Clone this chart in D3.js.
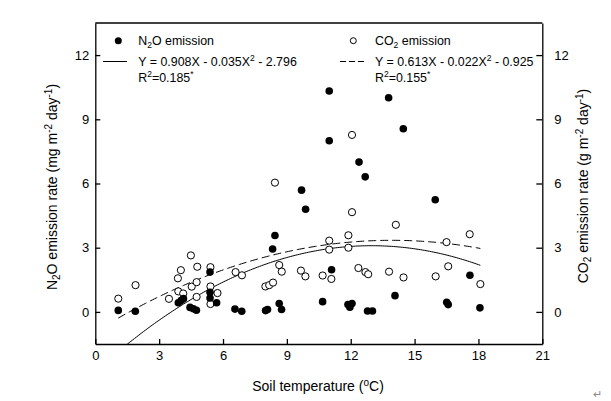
<!DOCTYPE html>
<html><head><meta charset="utf-8">
<script src="https://cdn.jsdelivr.net/npm/d3@7"></script>
<style>body{margin:0;background:#fff}svg{display:block}text{font-family:"Liberation Sans",Arial,sans-serif;fill:#000}</style>
</head><body>
<script>
// N2O emission (filled): soil temperature, rate
const n2oTemp = [1.08,1.88,3.90,4.03,4.14,4.45,4.61,4.75,5.39,5.39,5.39,5.70,6.56,6.88,8.00,8.09,8.33,8.44,8.64,8.75,9.69,9.88,10.68,10.99,10.99,11.10,11.87,11.96,12.06,12.39,12.68,12.79,13.02,13.78,14.08,14.47,15.97,16.51,16.58,17.60,18.07];
const n2oRate = [0.07,0.03,0.43,0.53,0.62,0.21,0.15,0.08,1.86,0.92,0.65,0.43,0.13,0.03,0.06,0.11,2.94,3.57,0.39,0.11,5.69,4.80,0.48,10.32,8.00,1.97,0.34,0.22,0.39,7.00,6.31,0.04,0.04,10.01,0.76,8.56,5.24,0.45,0.34,1.71,0.19];
// CO2 emission (open)
const co2Temp = [1.08,1.89,3.46,3.90,4.13,3.88,4.02,4.49,4.53,4.76,4.76,4.79,5.41,5.41,5.41,5.74,6.59,6.89,7.99,8.17,8.35,8.44,8.64,8.76,9.66,9.87,10.68,11.09,10.99,10.99,11.89,11.89,12.06,12.06,12.36,12.69,12.82,13.80,14.12,14.48,15.99,16.50,16.58,17.59,18.09];
const co2Rate = [0.62,1.25,0.61,0.96,0.86,1.57,1.95,2.64,1.18,1.39,0.70,2.11,2.09,1.19,0.37,0.88,1.86,1.71,1.19,1.25,1.37,6.04,2.19,1.88,1.93,1.66,1.70,1.54,3.33,2.91,3.58,3.00,4.66,8.27,2.05,1.86,1.76,1.88,4.07,1.61,1.66,3.26,2.13,3.63,1.30];
// fitted curves: Y = a*X + b*X^2 + c
const n2oFit = [0.908, -0.035, -2.796];
const co2Fit = [0.613, -0.022, -0.925];
const fitRange = [1.08, 18.09];
const xTicks = [0,3,6,9,12,15,18,21];
const yTicks = [0,3,6,9,12];

const W = 611, H = 401;
const svg = d3.select("body").append("svg").attr("width", W).attr("height", H);
const x = d3.scaleLinear().domain([0,21]).range([95.3,542.3]);
const y = d3.scaleLinear().domain([-1.5,13.5]).range([344,23]);

svg.append("defs").append("clipPath").attr("id","clip")
  .append("rect").attr("x",x(0)).attr("y",y(13.5)).attr("width",x(21)-x(0)).attr("height",y(-1.5)-y(13.5));

const fs = "13px";
const gx = svg.append("g").attr("transform",`translate(0,${y(-1.5)})`)
  .call(d3.axisBottom(x).tickValues(xTicks).tickSizeInner(-5).tickSizeOuter(0).tickPadding(7));
const gl = svg.append("g").attr("transform",`translate(${x(0)},0)`)
  .call(d3.axisLeft(y).tickValues(yTicks).tickSizeInner(-5).tickSizeOuter(0).tickPadding(6));
const gr = svg.append("g").attr("transform",`translate(${x(21)},0)`)
  .call(d3.axisRight(y).tickValues(yTicks).tickSizeInner(-6).tickSizeOuter(0).tickPadding(12));
[gx,gl,gr].forEach(g=>{
  g.selectAll("text").style("font-size",fs).style("font-family","Liberation Sans, Arial, sans-serif").attr("fill","#000");
  g.selectAll("line,path").attr("stroke","#000").attr("stroke-width",1.3);
});
svg.append("line").attr("x1",x(0)).attr("x2",x(21)).attr("y1",y(13.5)).attr("y2",y(13.5)).attr("stroke","#000").attr("stroke-width",1.3);

// curves
function curve(c){
  const pts = d3.range(0,201).map(i=>{const X = fitRange[0]+(fitRange[1]-fitRange[0])*i/200; return [X, c[0]*X + c[1]*X*X + c[2]];});
  return d3.line().x(d=>x(d[0])).y(d=>y(d[1]))(pts);
}
const plot = svg.append("g").attr("clip-path","url(#clip)");
plot.append("path").attr("d",curve(n2oFit)).attr("fill","none").attr("stroke","#000").attr("stroke-width",1);
plot.append("path").attr("d",curve(co2Fit)).attr("fill","none").attr("stroke","#000").attr("stroke-width",1).attr("stroke-dasharray","8,4");

// points
plot.selectAll("circle.co2").data(co2Temp.map((t,i)=>[t,co2Rate[i]])).join("circle")
  .attr("cx",d=>x(d[0])).attr("cy",d=>y(d[1])).attr("r",3.6).attr("fill","#fff").attr("stroke","#000").attr("stroke-width",1);
plot.selectAll("circle.n2o").data(n2oTemp.map((t,i)=>[t,n2oRate[i]])).join("circle")
  .attr("cx",d=>x(d[0])).attr("cy",d=>y(d[1])).attr("r",3.8).attr("fill","#000");

// legend
const lg = svg.append("g").style("font-size","12.4px");
const sub = "8.5px";
lg.append("circle").attr("cx",118.3).attr("cy",40.7).attr("r",3.5).attr("fill","#000");
let t = lg.append("text").attr("x",138.3).attr("y",44.5);
t.append("tspan").text("N");
t.append("tspan").attr("font-size",sub).attr("dy",3).text("2");
t.append("tspan").attr("dy",-3).text("O emission");
lg.append("line").attr("x1",103).attr("x2",127).attr("y1",61.5).attr("y2",61.5).attr("stroke","#000");
t = lg.append("text").attr("x",138.3).attr("y",66);
t.append("tspan").text("Y = 0.908X - 0.035X");
t.append("tspan").attr("font-size",sub).attr("dy",-5).text("2");
t.append("tspan").attr("dy",5).text(" - 2.796");
t = lg.append("text").attr("x",138.3).attr("y",82);
t.append("tspan").text("R");
t.append("tspan").attr("font-size",sub).attr("dy",-5).text("2");
t.append("tspan").attr("dy",5).text("=0.185");
t.append("tspan").attr("font-size",sub).attr("dy",-5).text("*");

lg.append("circle").attr("cx",353.3).attr("cy",40.7).attr("r",3).attr("fill","#fff").attr("stroke","#000");
t = lg.append("text").attr("x",375).attr("y",44.5);
t.append("tspan").text("CO");
t.append("tspan").attr("font-size",sub).attr("dy",3).text("2");
t.append("tspan").attr("dy",-3).text(" emission");
lg.append("line").attr("x1",340).attr("x2",366).attr("y1",61.5).attr("y2",61.5).attr("stroke","#000").attr("stroke-dasharray","6,3");
t = lg.append("text").attr("x",375).attr("y",66);
t.append("tspan").text("Y = 0.613X - 0.022X");
t.append("tspan").attr("font-size",sub).attr("dy",-5).text("2");
t.append("tspan").attr("dy",5).text(" - 0.925");
t = lg.append("text").attr("x",375).attr("y",82);
t.append("tspan").text("R");
t.append("tspan").attr("font-size",sub).attr("dy",-5).text("2");
t.append("tspan").attr("dy",5).text("=0.155");
t.append("tspan").attr("font-size",sub).attr("dy",-5).text("*");

// axis titles
t = svg.append("text").attr("x",318).attr("y",391).attr("text-anchor","middle").style("font-size","14px");
t.append("tspan").text("Soil temperature (");
t.append("tspan").attr("font-size","10px").attr("dy",-5).text("o");
t.append("tspan").attr("dy",5).text("C)");

t = svg.append("text").attr("transform","translate(57,187) rotate(-90)").attr("text-anchor","middle").style("font-size","14px");
t.append("tspan").text("N");
t.append("tspan").attr("font-size","10px").attr("dy",3).text("2");
t.append("tspan").attr("dy",-3).text("O emission rate (mg m");
t.append("tspan").attr("font-size","10px").attr("dy",-5).text("-2");
t.append("tspan").attr("dy",5).text(" day");
t.append("tspan").attr("font-size","10px").attr("dy",-5).text("-1");
t.append("tspan").attr("dy",5).text(")");

t = svg.append("text").attr("transform","translate(588,186) rotate(-90)").attr("text-anchor","middle").style("font-size","14px");
t.append("tspan").text("CO");
t.append("tspan").attr("font-size","10px").attr("dy",3).text("2");
t.append("tspan").attr("dy",-3).text(" emission rate (g m");
t.append("tspan").attr("font-size","10px").attr("dy",-5).text("-2");
t.append("tspan").attr("dy",5).text(" day");
t.append("tspan").attr("font-size","10px").attr("dy",-5).text("-1");
t.append("tspan").attr("dy",5).text(")");

svg.append("text").attr("x",593).attr("y",398).style("font-size","11px").style("fill","#888").text("↵");
</script>
</body></html>
